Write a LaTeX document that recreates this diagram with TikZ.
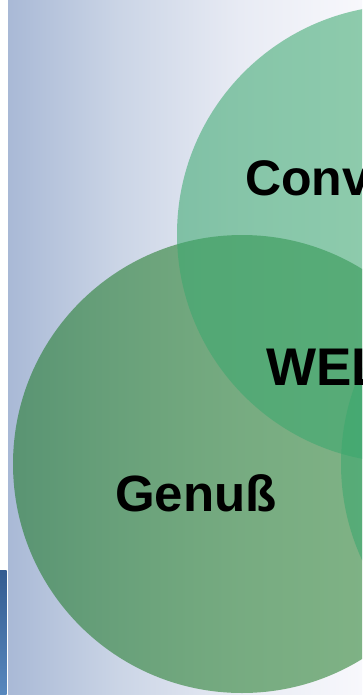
\documentclass[tikz,border=0pt]{standalone}
\usepackage{fontspec}
\setmainfont{Liberation Sans}
\definecolor{bgA}{RGB}{169,185,214}
\definecolor{bgB}{RGB}{203,213,230}
\definecolor{bgC}{RGB}{232,235,244}
\definecolor{bgD}{RGB}{248,248,252}
\definecolor{stripTop}{RGB}{52,92,145}
\definecolor{stripBot}{RGB}{88,136,190}
\definecolor{gL}{RGB}{16,114,24}
\definecolor{gT}{RGB}{58,168,110}
\definecolor{gR}{RGB}{58,168,110}
\pgfdeclarehorizontalshading{bgshade}{100bp}{color(0bp)=(bgA); color(25bp)=(bgA); color(40.8bp)=(bgB); color(57.75bp)=(bgC); color(75bp)=(bgD); color(100bp)=(bgD)}
\tikzset{
  venn/.style={circle, minimum size=458pt, inner sep=0pt, draw=none},
  lbl/.style={inner sep=0pt, anchor=base west, text=black, font=\bfseries\fontsize{50}{50}\selectfont},
}
\begin{document}
\begin{tikzpicture}[x=1pt,y=-1pt]
\useasboundingbox (0,0) rectangle (362,695);
\clip (0,0) rectangle (362,695);
\fill[white] (0,0) rectangle (362,695);
\shade[shading=bgshade] (8,0) rectangle (362,695);
\shade[top color=stripTop, bottom color=stripBot] (0,570) rectangle (6.7,695);
\node[venn, fill=gL, fill opacity=0.52] (genuss) at (242,464) {};
\node[venn, fill=gT, fill opacity=0.56] (conven) at (406,234) {};
\node[venn, fill=gR, fill opacity=0.56] (third) at (570,464) {};
\node[lbl] (tconv) at (245,195) {Convenience};
\node[lbl, font=\bfseries\fontsize{53}{53}\selectfont] (twell) at (266,385) {WELLNESS};
\node[lbl, font=\bfseries\fontsize{51}{51}\selectfont] (tgen) at (115,511) {Genuß};
\end{tikzpicture}
\end{document}
